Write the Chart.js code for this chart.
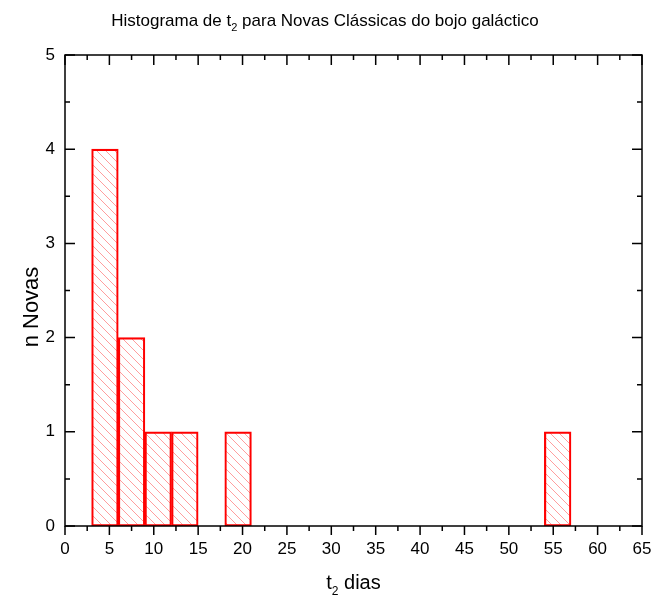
<!DOCTYPE html>
<html>
<head>
<meta charset="utf-8">
<script src="https://cdn.jsdelivr.net/npm/chart.js@4.4.1/dist/chart.umd.min.js"></script>
<style>
  html, body { margin: 0; padding: 0; background: #fff; }
  canvas { display: block; }
</style>
</head>
<body>
<canvas id="histo" width="656" height="610"></canvas>
<script>
// bins of t2 (days), each 3 days wide, and novae counted in each
const binStart = [3, 6, 9, 12, 18, 54];
const binWidth = 3;
const nNovas = [4, 2, 1, 1, 1, 1];
const xTicks = [0, 5, 10, 15, 20, 25, 30, 35, 40, 45, 50, 55, 60, 65];
const yTicks = [0, 1, 2, 3, 4, 5];

const FONT = "'Liberation Sans', Arial, sans-serif";

// diagonal hatch fill like the original plot
function hatchPattern() {
  const c = document.createElement('canvas');
  c.width = 9; c.height = 9;
  const g = c.getContext('2d');
  g.strokeStyle = 'rgba(255,0,0,0.38)';
  g.lineWidth = 1;
  g.beginPath();
  g.moveTo(0, 0); g.lineTo(9, 9);
  g.moveTo(-1, 8); g.lineTo(1, 10);
  g.moveTo(8, -1); g.lineTo(10, 1);
  g.stroke();
  return document.getElementById('histo').getContext('2d').createPattern(c, 'repeat');
}

// text with a subscript part: [['t',false],['2',true],[' dias',false]]
function drawParts(ctx, parts, x, y, size, align) {
  const subSize = Math.round(size * 0.62);
  let total = 0;
  parts.forEach(p => {
    ctx.font = (p[1] ? subSize : size) + 'px ' + FONT;
    total += ctx.measureText(p[0]).width;
  });
  let cx = align === 'center' ? x - total / 2 : x;
  ctx.textAlign = 'left';
  ctx.textBaseline = 'alphabetic';
  parts.forEach(p => {
    ctx.font = (p[1] ? subSize : size) + 'px ' + FONT;
    ctx.fillText(p[0], cx, p[1] ? y + size * 0.28 : y);
    cx += ctx.measureText(p[0]).width;
  });
}

const framePlugin = {
  id: 'frame',
  afterDraw(chart) {
    const {ctx, chartArea: a, scales} = chart;
    const xs = scales.x, ys = scales.y;
    ctx.save();
    ctx.strokeStyle = '#000';
    ctx.lineWidth = 1.5;
    ctx.strokeRect(a.left, a.top, a.right - a.left, a.bottom - a.top);

    ctx.beginPath();
    // x: outward ticks at the bottom, inward ticks at the top
    xTicks.forEach((v, i) => {
      const px = xs.getPixelForValue(v);
      ctx.moveTo(px, a.bottom); ctx.lineTo(px, a.bottom + 9);
      ctx.moveTo(px, a.top); ctx.lineTo(px, a.top + 10);
      if (i < xTicks.length - 1) {
        const mx = xs.getPixelForValue(v + 2.5);
        ctx.moveTo(mx, a.bottom); ctx.lineTo(mx, a.bottom + 5);
        ctx.moveTo(mx, a.top); ctx.lineTo(mx, a.top + 5);
      }
    });
    // y: inward ticks on both sides
    yTicks.forEach((v, i) => {
      const py = ys.getPixelForValue(v);
      ctx.moveTo(a.left, py); ctx.lineTo(a.left + 10, py);
      ctx.moveTo(a.right, py); ctx.lineTo(a.right - 10, py);
      if (i < yTicks.length - 1) {
        const my = ys.getPixelForValue(v + 0.5);
        ctx.moveTo(a.left, my); ctx.lineTo(a.left + 5, my);
        ctx.moveTo(a.right, my); ctx.lineTo(a.right - 5, my);
      }
    });
    ctx.stroke();

    ctx.fillStyle = '#000';
    // title
    drawParts(ctx, [['Histograma de t', false], ['2', true], [' para Novas Clássicas do bojo galáctico', false]],
      325, 26, 17, 'center');
    // x axis title
    drawParts(ctx, [['t', false], ['2', true], [' dias', false]], (a.left + a.right) / 2, 589, 20, 'center');
    // y axis title
    ctx.save();
    ctx.translate(38, 307);
    ctx.rotate(-Math.PI / 2);
    drawParts(ctx, [['n Novas', false]], 0, 0, 22, 'center');
    ctx.restore();
    ctx.restore();
  }
};

const points = binStart.map((s, i) => ({x: s + binWidth / 2, y: nNovas[i]}));

new Chart(document.getElementById('histo'), {
  type: 'bar',
  data: {
    datasets: [{
      data: points,
      backgroundColor: hatchPattern(),
      borderColor: '#ff0000',
      borderWidth: 1.5,
      borderSkipped: false,
      barPercentage: 1,
      categoryPercentage: 1
    }]
  },
  options: {
    responsive: false,
    animation: false,
    layout: { padding: { left: 0, right: 14, top: 55, bottom: 0 } },
    plugins: {
      legend: { display: false },
      title: { display: false },
      tooltip: { enabled: false }
    },
    scales: {
      x: {
        type: 'linear',
        min: 0, max: 65,
        offset: false,
        grid: { display: false, drawTicks: false, offset: false },
        border: { display: false },
        afterBuildTicks: s => { s.ticks = xTicks.map(v => ({value: v})); },
        afterFit: s => { s.height = 84; s.paddingLeft = 0; s.paddingRight = 0; },
        ticks: { color: '#000', padding: 13, font: { family: FONT, size: 17 } }
      },
      y: {
        min: 0, max: 5,
        grid: { display: false, drawTicks: false },
        border: { display: false },
        afterBuildTicks: s => { s.ticks = yTicks.map(v => ({value: v})); },
        afterFit: s => { s.width = 65; s.paddingTop = 0; s.paddingBottom = 0; },
        ticks: { color: '#000', padding: 10, font: { family: FONT, size: 17 } }
      }
    }
  },
  plugins: [framePlugin]
});
</script>
</body>
</html>
